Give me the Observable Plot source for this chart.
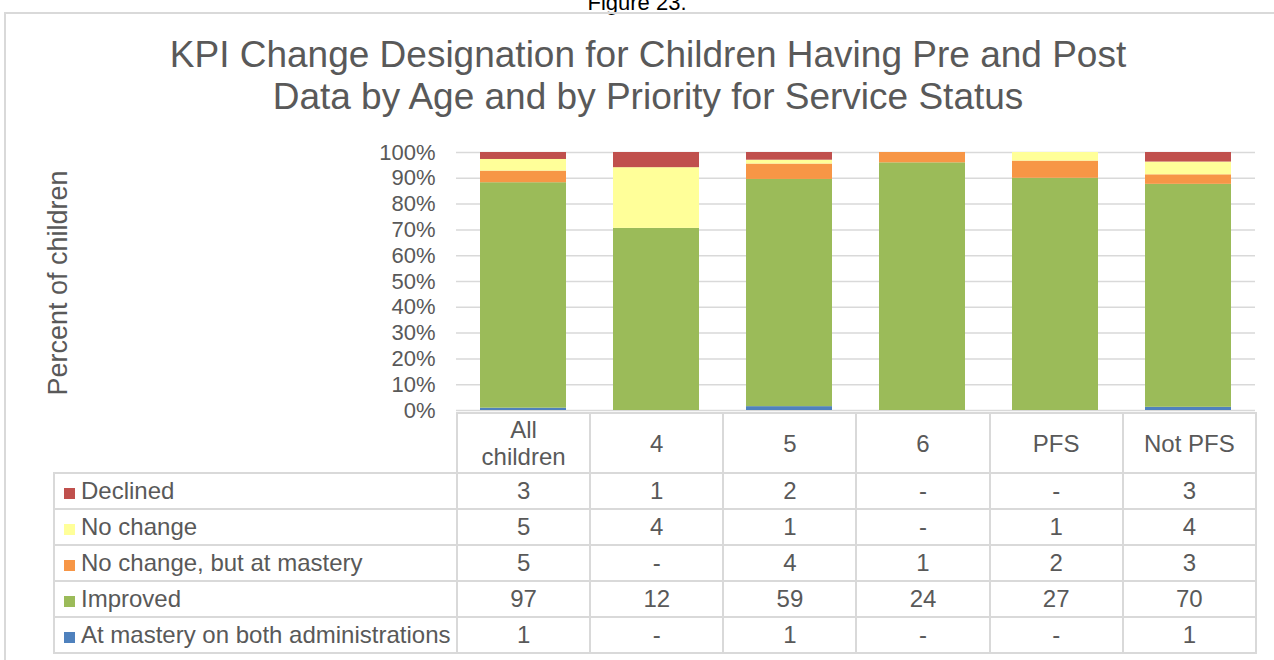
<!DOCTYPE html>
<html>
<head>
<meta charset="utf-8">
<script src="https://cdn.jsdelivr.net/npm/d3@7"></script>
<script src="https://cdn.jsdelivr.net/npm/@observablehq/plot@0.6"></script>
<style>
  html, body { margin: 0; padding: 0; background: #fff; }
  body { width: 1274px; height: 660px; overflow: hidden; position: relative; font-family: "Liberation Sans", Arial, sans-serif; color: #595959; }
  #fig { position: absolute; left: 0; width: 1274px; top: -8px; text-align: center; font-size: 22px; line-height: 22px; color: #000; }
  #frame { position: absolute; left: 4px; top: 12px; width: 1290px; height: 700px; border: 2px solid #d9d9d9; box-sizing: border-box; }
  #title { position: absolute; left: 0; width: 1296px; top: 34px; text-align: center; font-size: 37px; line-height: 42px; color: #595959; }
  #ylabel { position: absolute; left: 58px; top: 283px; width: 0; height: 0; }
  #ylabel span { position: absolute; transform: translate(-50%, -50%) rotate(-90deg); white-space: nowrap; font-size: 27px; color: #595959; }
  #chart { position: absolute; left: 0; top: 130px; }
  #chart svg { overflow: visible; }
  #tbl { position: absolute; left: 53px; top: 412px; border-collapse: collapse; table-layout: fixed; width: 1202px; font-size: 24px; color: #595959; }
  #tbl td { border: 2px solid #d9d9d9; padding: 0; text-align: center; vertical-align: middle; white-space: nowrap; overflow: hidden; }
  #tbl tr.head td { height: 58px; line-height: 27px; }
  #tbl tr.row td { height: 34px; line-height: 34px; }
  #tbl td.blank { border-top: none; border-left: none; }
  #tbl td.leg { text-align: left; padding-left: 9px; }
  .sw { display: inline-block; width: 11px; height: 11px; margin-right: 6px; vertical-align: 0px; }
</style>
</head>
<body>
<div id="fig">Figure 23.</div>
<div id="frame"></div>
<div id="title">KPI Change Designation for Children Having Pre and Post<br>Data by Age and by Priority for Service Status</div>
<div id="ylabel"><span>Percent of children</span></div>
<div id="chart"></div>
<table id="tbl"></table>
<script>
// ---- data ----
const categories = ["All children", "4", "5", "6", "PFS", "Not PFS"];
const seriesNames = ["At mastery on both administrations", "Improved", "No change, but at mastery", "No change", "Declined"];
const seriesColors = ["#4F81BD", "#9BBB59", "#F79646", "#FFFF99", "#C0504D"];
const atMastery       = [1, 0, 1, 0, 0, 1];
const improved        = [97, 12, 59, 24, 27, 70];
const noChangeMastery = [5, 0, 4, 1, 2, 3];
const noChange        = [5, 4, 1, 0, 1, 4];
const declined        = [3, 1, 2, 0, 0, 3];
const yTicks = [0, 0.1, 0.2, 0.3, 0.4, 0.5, 0.6, 0.7, 0.8, 0.9, 1];

const seriesValues = [atMastery, improved, noChangeMastery, noChange, declined];
const data = [];
seriesNames.forEach((s, i) => {
  categories.forEach((c, j) => data.push({ category: c, series: s, value: seriesValues[i][j] }));
});

const chart = Plot.plot({
  width: 1274,
  height: 300,
  marginLeft: 456,
  marginRight: 19,
  marginTop: 22,
  marginBottom: 20,
  style: { fontFamily: "Liberation Sans, Arial, sans-serif", background: "transparent", overflow: "visible" },
  x: { domain: categories, paddingInner: 0.35, paddingOuter: 0.175, axis: null },
  y: { domain: [0, 1] },
  color: { domain: seriesNames, range: seriesColors },
  marks: [
    Plot.gridY({ ticks: yTicks, stroke: "#d9d9d9", strokeOpacity: 1, strokeWidth: 1.5 }),
    Plot.axisY({ ticks: yTicks, tickSize: 0, tickPadding: 21, fontSize: 22, fill: "#595959",
                 tickFormat: d => Math.round(d * 100) + "%", label: null }),
    Plot.barY(data, { x: "category", y: "value", fill: "series", offset: "normalize", order: seriesNames })
  ]
});
document.getElementById("chart").appendChild(chart);

// ---- data table ----
const tbl = document.getElementById("tbl");
const colgroup = document.createElement("colgroup");
[403, ...categories.map(() => 133.17)].forEach(w => {
  const col = document.createElement("col");
  col.style.width = w + "px";
  colgroup.appendChild(col);
});
tbl.appendChild(colgroup);
const head = document.createElement("tr");
head.className = "head";
const blank = document.createElement("td");
blank.className = "blank";
head.appendChild(blank);
categories.forEach(c => {
  const td = document.createElement("td");
  td.innerHTML = c === "All children" ? "All<br>children" : c;
  head.appendChild(td);
});
tbl.appendChild(head);
// rows top to bottom: reverse stack order
for (let i = seriesNames.length - 1; i >= 0; i--) {
  const tr = document.createElement("tr");
  tr.className = "row";
  const leg = document.createElement("td");
  leg.className = "leg";
  const sw = document.createElement("span");
  sw.className = "sw";
  sw.style.background = seriesColors[i];
  leg.appendChild(sw);
  leg.appendChild(document.createTextNode(seriesNames[i]));
  tr.appendChild(leg);
  seriesValues[i].forEach(v => {
    const td = document.createElement("td");
    td.textContent = v === 0 ? "-" : String(v);
    tr.appendChild(td);
  });
  tbl.appendChild(tr);
}
</script>
</body>
</html>
